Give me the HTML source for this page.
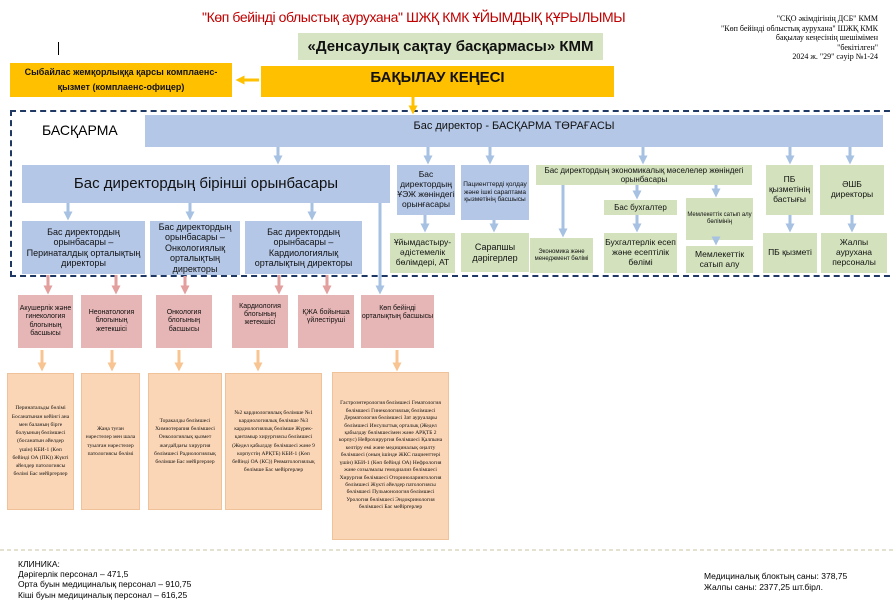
<!DOCTYPE html>
<html><head><meta charset="utf-8"><style>
body{margin:0;width:894px;height:608px;background:#fff;position:relative;overflow:hidden;font-family:"Liberation Sans","DejaVu Sans",sans-serif;}
.b{position:absolute;display:flex;align-items:center;justify-content:center;text-align:center;box-sizing:border-box;line-height:1.15;color:#111;}
.bl{background:#b4c7e7;}
.gr{background:#d3e2bd;}
.pk{background:#e6b5b5;font-size:7px;}
.pc{background:#fbd6b6;font-size:5.5px;border:1px solid #f0c29a;font-family:"Liberation Serif",serif;line-height:1.5;padding:3px;}
.t{position:absolute;white-space:nowrap;}
svg{position:absolute;left:0;top:0;}
</style></head><body>
<div class="t" style="left:202px;top:9px;font-size:14px;color:#c00000;letter-spacing:-0.4px;">"Көп бейінді облыстық ауруханa" ШЖҚ КМК ҰЙЫМДЫҚ ҚҰРЫЛЫМЫ</div>
<div class="t" style="right:16px;top:14px;font-size:8px;font-family:'Liberation Serif',serif;text-align:right;line-height:1.2;">"СҚО әкімдігінің ДСБ" КММ<br>"Көп бейінді облыстық ауруханa" ШЖҚ КМК<br>бақылау кеңесінің шешімімен<br>"бекітілген"<br>2024 ж. "29" сәуір №1-24</div>
<div style="position:absolute;left:58px;top:42px;width:1px;height:13px;background:#000"></div>
<div class="b gr" style="left:298px;top:33px;width:305px;height:27px;font-size:15px;font-weight:bold;background:#d6e4c4;">«Денсаулық сақтау басқармасы» КММ</div>
<div class="b" style="left:10px;top:63px;width:222px;height:34px;background:#ffc000;font-size:9px;font-weight:bold;line-height:1.7;">Сыбайлас жемқорлыққа қарсы комплаенс-<br>қызмет (комплаенс-офицер)</div>
<div class="b" style="left:261px;top:66px;width:353px;height:31px;background:#ffc000;font-size:15px;font-weight:bold;align-items:flex-start;padding-top:3px;">БАҚЫЛАУ КЕҢЕСІ</div>
<div style="position:absolute;left:10px;top:110px;width:890px;height:167px;border:2px dashed #1f3864;border-right:none;box-sizing:border-box;"></div>
<div class="t" style="left:42px;top:122px;font-size:14px;">БАСҚАРМА</div>
<div class="b bl" style="left:145px;top:115px;width:738px;height:32px;font-size:11px;align-items:flex-start;padding-top:5px;">Бас директор - БАСҚАРМА ТӨРАҒАСЫ</div>
<div class="b bl" style="left:22px;top:165px;width:368px;height:38px;font-size:15px;">Бас директордың бірінші орынбасары</div>
<div class="b bl" style="left:22px;top:221px;width:123px;height:53px;font-size:9px;">Бас директордың орынбасары – Перинаталдық орталықтың директоры</div>
<div class="b bl" style="left:150px;top:221px;width:90px;height:54px;font-size:9px;">Бас директордың орынбасары – Онкологиялық орталықтың директоры</div>
<div class="b bl" style="left:245px;top:221px;width:117px;height:53px;font-size:9px;">Бас директордың орынбасары – Кардиологиялық орталықтың директоры</div>
<div class="b bl" style="left:397px;top:165px;width:58px;height:50px;font-size:8.5px;">Бас директордың ҰЭЖ жөніндегі орынғасары</div>
<div class="b bl" style="left:461px;top:165px;width:68px;height:55px;font-size:6.5px;">Пациенттерді қолдау және ішкі сараптама қызметінің басшысы</div>
<div class="b gr" style="left:536px;top:165px;width:216px;height:20px;font-size:8px;">Бас директордың экономикалық мәселелер жөніндегі орынбасары</div>
<div class="b gr" style="left:766px;top:165px;width:47px;height:50px;font-size:8.5px;">ПБ қызметінің бастығы</div>
<div class="b gr" style="left:820px;top:165px;width:64px;height:50px;font-size:8.5px;">ӘШБ директоры</div>
<div class="b gr" style="left:604px;top:200px;width:73px;height:15px;font-size:8px;">Бас бухгалтер</div>
<div class="b gr" style="left:686px;top:198px;width:67px;height:42px;font-size:6px;">Мемлекеттік сатып алу бөлімінің</div>
<div class="b gr" style="left:390px;top:233px;width:65px;height:40px;font-size:8.5px;">Ұйымдастыру-әдістемелік бөлімдері, АТ</div>
<div class="b gr" style="left:461px;top:233px;width:68px;height:39px;font-size:9px;">Сарапшы дәрігерлер</div>
<div class="b gr" style="left:530px;top:238px;width:63px;height:35px;font-size:6px;">Экономика және менеджмент бөлімі</div>
<div class="b gr" style="left:604px;top:233px;width:73px;height:40px;font-size:8.5px;">Бухгалтерлік есеп және есептілік бөлімі</div>
<div class="b gr" style="left:686px;top:246px;width:67px;height:27px;font-size:8.5px;overflow:hidden;">Мемлекеттік сатып алу</div>
<div class="b gr" style="left:763px;top:233px;width:54px;height:40px;font-size:8.5px;">ПБ қызметі</div>
<div class="b gr" style="left:821px;top:233px;width:66px;height:40px;font-size:8.5px;">Жалпы аурухана персоналы</div>

<div class="b pk" style="left:18px;top:295px;width:55px;height:53px;">Акушерлік және гинекология блогының басшысы</div>
<div class="b pk" style="left:81px;top:295px;width:61px;height:53px;">Неонатология блогының жетекшісі</div>
<div class="b pk" style="left:156px;top:295px;width:56px;height:53px;">Онкология блогының басшысы</div>
<div class="b pk" style="left:232px;top:295px;width:56px;height:53px;align-items:flex-start;padding-top:8px;">Кардиология блогының жетекшісі</div>
<div class="b pk" style="left:298px;top:295px;width:56px;height:53px;align-items:flex-start;padding-top:14px;">ҚЖА бойынша үйлестіруші</div>
<div class="b pk" style="left:361px;top:295px;width:73px;height:53px;align-items:flex-start;padding-top:10px;">Көп бейінді орталықтың басшысы</div>

<div class="b pc" style="left:7px;top:373px;width:67px;height:137px;">Перинатальды бөлімі Босанатынан кейінгі ана мен баланың бірге болуының бөлімшесі (босанатын әйелдер үшін) КБИ-1 (Көп бейінді ОА (ПК)) Жүкті әйелдер патологиясы бөлімі Бас мейіргерлер</div>
<div class="b pc" style="left:81px;top:373px;width:59px;height:137px;">Жаңа туған нәрестелер мен шала туылған нәрестелер патологиясы бөлімі</div>
<div class="b pc" style="left:148px;top:373px;width:74px;height:137px;">Торакалды бөлімшесі Химиотерапия бөлімшесі Онкологиялық қызмет жағдайдағы хирургия бөлімшесі Радиологиялық бөлімше Бас мейіргерлер</div>
<div class="b pc" style="left:225px;top:373px;width:97px;height:137px;">№2 кардиологиялық бөлімше №1 кардиологиялық бөлімше №3 кардиологиялық бөлімше Жүрек-қантамыр хирургиясы бөлімшесі (Жедел қабылдау бөлімшесі және 9 корпустің АРҚТБ) КБИ-1 (Көп бейінді ОА (КС)) Ревматологиялық бөлімше Бас мейіргерлер</div>
<div class="b pc" style="left:332px;top:372px;width:117px;height:168px;padding:2px;line-height:1.35;">Гастроэнтерология бөлімшесі Гематология бөлімшесі Гинекологиялық бөлімшесі Дерматология бөлімшесі Зат ауруалары бөлімшесі Инсульттық орталық (Жедел қабылдау бөлімшесімен және АРҚТБ 2 корпус) Нейрохирургия бөлімшесі Қалпына келтіру емі және медициналық оңалту бөлімшесі (оның ішінде ЖКС пациенттері үшін) КБИ-1 (Көп бейінді ОА) Нефрология және созылмалы гемодиализ бөлімшесі Хирургия бөлімшесі Оториноларингология бөлімшесі Жүкті әйелдер патологиясы бөлімшесі Пульмонология бөлімшесі Урология бөлімшесі Эндокринология бөлімшесі Бас мейіргерлер</div>

<svg width="894" height="608">
<defs>
<marker id="ab" markerWidth="3" markerHeight="3" refX="1.5" refY="1.5" orient="auto" markerUnits="strokeWidth"><path d="M0,0L3,1.5L0,3z" fill="#a7c1e3"/></marker>
<marker id="ap" markerWidth="3" markerHeight="3" refX="1.5" refY="1.5" orient="auto" markerUnits="strokeWidth"><path d="M0,0L3,1.5L0,3z" fill="#e39e9e"/></marker>
<marker id="ac" markerWidth="3" markerHeight="3" refX="1.5" refY="1.5" orient="auto" markerUnits="strokeWidth"><path d="M0,0L3,1.5L0,3z" fill="#f8c592"/></marker>
<marker id="ay" markerWidth="3" markerHeight="3" refX="1.5" refY="1.5" orient="auto" markerUnits="strokeWidth"><path d="M0,0L3,1.5L0,3z" fill="#ffc000"/></marker>
</defs>
<g stroke="#ffc000" stroke-width="3"><line x1="259" y1="80" x2="240" y2="80" marker-end="url(#ay)"/><line x1="413" y1="97" x2="413" y2="110" marker-end="url(#ay)"/></g>
<g stroke="#a7c1e3" stroke-width="3" marker-end="url(#ab)">
<line x1="278" y1="147" x2="278" y2="160"/><line x1="428" y1="147" x2="428" y2="160"/><line x1="490" y1="147" x2="490" y2="160"/><line x1="643" y1="147" x2="643" y2="160"/><line x1="790" y1="147" x2="790" y2="160"/><line x1="850" y1="147" x2="850" y2="160"/>
<line x1="68" y1="203" x2="68" y2="216"/><line x1="190" y1="203" x2="190" y2="216"/><line x1="312" y1="203" x2="312" y2="216"/>
<line x1="380" y1="203" x2="380" y2="290"/>
<line x1="425" y1="215" x2="425" y2="228"/><line x1="494" y1="220" x2="494" y2="228"/>
<line x1="563" y1="185" x2="563" y2="233"/><line x1="637" y1="185" x2="637" y2="195"/><line x1="716" y1="185" x2="716" y2="193"/>
<line x1="637" y1="215" x2="637" y2="228"/><line x1="716" y1="240" x2="716" y2="241"/>
<line x1="790" y1="215" x2="790" y2="228"/><line x1="852" y1="215" x2="852" y2="228"/>
</g>
<g stroke="#e39e9e" stroke-width="3" marker-end="url(#ap)">
<line x1="48" y1="275" x2="48" y2="290"/><line x1="116" y1="275" x2="116" y2="290"/><line x1="185" y1="276" x2="185" y2="290"/><line x1="279" y1="275" x2="279" y2="290"/><line x1="327" y1="275" x2="327" y2="290"/>
</g>
<g stroke="#f8c592" stroke-width="3" marker-end="url(#ac)">
<line x1="42" y1="350" x2="42" y2="367"/><line x1="112" y1="350" x2="112" y2="367"/><line x1="179" y1="350" x2="179" y2="367"/><line x1="258" y1="350" x2="258" y2="367"/><line x1="397" y1="350" x2="397" y2="367"/>
</g>
<line x1="0" y1="550" x2="894" y2="550" stroke="#c8c3a0" stroke-width="1" stroke-dasharray="4,3"/>
</svg>

<div class="t" style="left:18px;top:559px;font-size:8.5px;line-height:1.2;">КЛИНИКА:<br>Дәрігерлік персонал – 471,5<br>Орта буын медициналық персонал – 910,75<br>Кіші буын медициналық персонал – 616,25</div>
<div class="t" style="left:704px;top:571px;font-size:8.5px;line-height:1.3;">Медициналық блоктың саны: 378,75<br>Жалпы саны: 2377,25 шт.бірл.</div>
</body></html>
